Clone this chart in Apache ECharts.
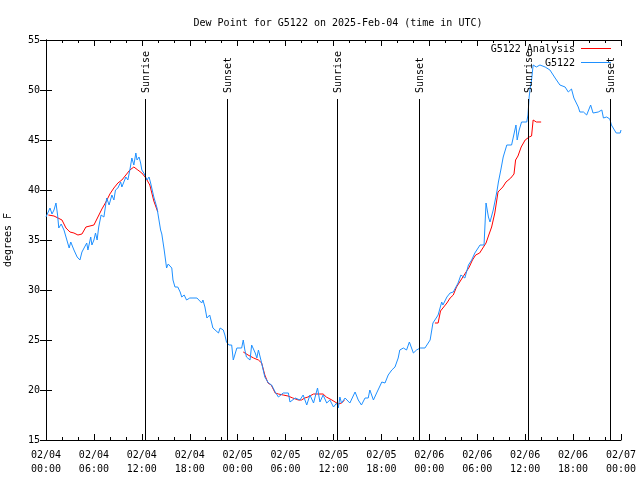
<!DOCTYPE html>
<html>
<head>
<meta charset="utf-8">
<script src="https://cdn.jsdelivr.net/npm/echarts@6/dist/echarts.min.js"></script>
<style>html,body{margin:0;padding:0;background:#fff;}#c{width:640px;height:480px;}</style>
</head>
<body>
<div id="c"></div>
<script>
// Hours since 2025-02-04 00:00 UTC
var obsHours = [0,0.25,0.5,0.75,1.0,1.25,1.45,1.6,1.9,2.25,2.5,2.9,3.1,3.5,3.9,4.25,4.5,4.75,5.1,5.25,5.6,5.75,6.0,6.2,6.4,6.6,6.9,7.0,7.25,7.6,7.9,8.25,8.5,8.7,9.0,9.35,9.5,10.0,10.25,10.5,10.75,11.0,11.25,11.4,11.65,11.85,12.0,12.25,12.65,12.9,13.1,13.3,13.5,13.9,14.1,14.35,14.5,14.8,15.1,15.3,15.5,15.75,15.9,16.15,16.5,16.8,17.0,17.3,17.6,18.0,18.9,19.15,19.5,19.65,19.9,20.15,20.3,20.5,20.75,20.9,21.15,21.6,21.8,22.2,22.4,22.6,22.9,23.05,23.25,23.45,23.9,24.1,24.5,24.7,24.9,25.1,25.55,25.75,25.95,26.2,26.4,26.6,27.0,27.4,27.85,28.25,28.7,29.1,29.7,30.35,30.55,31.2,31.8,32.2,32.65,33.05,33.5,34.0,34.3,34.7,35.15,35.55,36.0,36.4,36.6,36.8,37.0,37.45,38.05,38.7,39.1,39.5,39.95,40.35,40.55,41.0,41.4,42.05,42.45,42.85,43.3,43.7,44.1,44.3,44.75,45.15,45.5,46.0,46.4,46.85,47.45,48.1,48.45,49.1,49.55,49.7,50.2,50.6,51.0,51.6,51.95,52.45,52.9,53.3,53.7,54.35,54.85,55.1,55.4,55.6,56.0,56.45,56.65,56.95,57.25,57.7,58.3,58.5,58.85,59.0,59.25,59.55,60.2,60.35,60.5,60.65,60.8,61.0,61.4,61.85,62.5,63.1,63.75,64.35,65.0,65.4,65.8,66.1,66.65,66.85,67.3,67.7,68.2,68.5,69.15,69.6,69.8,70.2,70.6,70.8,71.0,71.4,71.9,72.0];
var obsValues = [37.3,37.4,38.2,37.6,38.0,38.7,37.5,36.2,36.6,36.0,35.8,34.2,34.8,34.0,33.3,33.0,33.8,33.8,34.7,34.0,35.3,34.5,35.0,35.7,35.0,36.3,37.5,37.7,37.3,39.2,38.5,39.5,39.0,40.0,40.2,40.8,40.3,41.3,41.0,42.0,43.2,42.5,43.7,43.0,43.3,42.7,42.0,41.7,41.0,41.3,40.7,40.9,39.3,38.2,38.0,36.0,35.6,34.0,32.2,32.6,32.5,32.2,31.0,30.3,30.3,29.8,29.3,29.5,29.0,29.2,29.2,29.0,28.7,29.0,28.3,27.2,27.0,27.5,26.7,26.2,26.0,25.7,26.2,26.0,25.5,24.8,24.5,24.7,24.5,23.0,24.2,24.2,24.2,25.0,24.0,23.3,23.0,24.5,24.5,23.7,23.2,24.0,22.7,21.3,20.7,20.5,19.8,19.3,19.7,19.7,18.8,19.2,19.0,19.5,18.5,19.5,18.7,20.2,18.8,19.5,18.7,19.0,18.3,18.7,18.2,19.3,18.7,19.2,18.7,19.8,19.0,18.5,19.2,19.2,20.0,19.0,19.7,20.8,20.7,21.5,22.0,22.3,23.2,24.0,24.2,24.0,24.8,23.7,24.0,24.2,24.2,25.0,26.7,27.5,28.8,28.5,29.3,29.7,29.8,30.7,31.5,31.2,32.5,33.0,33.7,34.5,34.5,38.7,37.3,36.8,38.0,39.8,40.8,42.0,43.3,44.5,44.5,44.5,46.5,45.0,46.0,46.8,46.8,47.5,49.3,50.3,51.0,52.5,52.3,52.5,52.3,52.0,51.2,50.5,50.3,49.8,50.1,49.2,48.3,47.8,47.8,47.5,48.5,47.7,47.8,48.0,47.2,47.3,47.1,46.5,46.5,45.7,45.7,46.0];

// Analysis series (null = gap)
var anaHours = [0.3,1.0,2.0,2.5,3.0,3.5,4.0,4.5,5.0,6.0,6.5,7.0,7.5,8.0,8.5,9.0,9.5,10.0,10.5,11.0,11.5,12.0,12.5,13.0,13.5,14.0,
  19.0,
  24.7,25.3,26.0,26.6,27.0,27.4,27.8,28.2,28.7,29.1,29.7,30.3,30.9,31.6,32.0,32.4,32.8,33.5,34.2,34.7,35.1,35.8,36.2,36.6,37.0,37.4,
  43.0,
  48.7,49.1,49.4,49.8,50.2,50.6,51.0,51.4,51.8,52.2,52.6,53.0,53.4,53.8,54.3,54.7,55.1,55.4,55.8,56.2,56.6,57.2,57.6,58.2,58.6,58.8,59.1,59.5,60.0,60.5,60.8,61.0,61.4,62.0];
var anaValues = [37.5,37.4,37.0,36.2,35.8,35.7,35.5,35.6,36.3,36.5,37.3,38.1,38.8,39.6,40.2,40.7,41.0,41.5,42.0,42.3,42.0,41.7,41.2,40.5,38.9,37.8,
  null,
  23.8,23.5,23.2,23.0,22.7,21.5,20.7,20.5,19.7,19.6,19.5,19.4,19.2,19.0,19.0,19.2,19.3,19.6,19.6,19.6,19.3,19.0,18.8,18.6,18.7,19.0,
  null,
  26.7,26.7,27.9,28.3,28.7,29.2,29.5,30.3,30.8,31.3,31.8,32.3,33.0,33.5,33.7,34.2,34.7,35.4,36.3,37.7,39.8,40.3,40.8,41.2,41.6,43.0,43.4,44.3,45.0,45.3,45.4,47.0,46.8,46.8];

var eventHours = [12.4, 22.65, 36.45, 46.7, 60.35, 70.6];
var eventLabels = ['Sunrise','Sunset','Sunrise','Sunset','Sunrise','Sunset'];

var xTickLabels = ['02/04\n00:00','02/04\n06:00','02/04\n12:00','02/04\n18:00','02/05\n00:00','02/05\n06:00','02/05\n12:00','02/05\n18:00','02/06\n00:00','02/06\n06:00','02/06\n12:00','02/06\n18:00','02/07\n00:00'];

var seriesNames = ['G5122 Analysis', 'G5122'];
var seriesColors = ['#ff0000', '#1e90ff'];

var FONT = 'DejaVu Sans Mono';
function zip(a, b) { var r = []; for (var i = 0; i < a.length; i++) r.push([a[i], b[i] === null ? '-' : b[i]]); return r; }

// key (legend) drawn as graphic elements, gnuplot style: text then line sample
var keyGraphics = [];
seriesNames.forEach(function (name, i) {
  var cy = 49 + i * 14;
  keyGraphics.push({type: 'text', x: 575, y: cy, z: 10,
    style: {text: name, fill: '#000', font: '10px "' + FONT + '"', align: 'right', verticalAlign: 'middle'}});
  keyGraphics.push({type: 'line', z: 10, shape: {x1: 581, y1: cy - 0.5, x2: 611, y2: cy - 0.5},
    style: {stroke: seriesColors[i], lineWidth: 1}});
});

var chart = echarts.init(document.getElementById('c'), null, {renderer: 'canvas'});
var axisLineStyle = {color: '#000', width: 1};
chart.setOption({
  animation: false,
  backgroundColor: '#fff',
  textStyle: {fontFamily: FONT, fontSize: 10, color: '#000'},
  title: {
    text: 'Dew Point for G5122 on 2025-Feb-04 (time in UTC)',
    left: 333, top: 13, textAlign: 'center',
    textStyle: {fontFamily: FONT, fontSize: 10, fontWeight: 'normal', color: '#000'}
  },
  graphic: keyGraphics,
  grid: {left: 46, right: 19, top: 40, bottom: 40, containLabel: false, outerBoundsMode: 'none'},
  xAxis: [
    {type: 'value', min: 0, max: 72, interval: 6, position: 'bottom',
     axisLine: {show: true, lineStyle: axisLineStyle},
     axisTick: {show: true, inside: true, length: 6, lineStyle: axisLineStyle},
     minorTick: {show: true, splitNumber: 3, length: 3, lineStyle: axisLineStyle},
     splitLine: {show: false},
     axisLabel: {margin: 8, lineHeight: 14, fontFamily: FONT, fontSize: 10, color: '#000',
       formatter: function (v) { return xTickLabels[Math.round(v / 6)]; }}},
    {type: 'value', min: 0, max: 72, interval: 6, position: 'top',
     axisLine: {show: true, lineStyle: axisLineStyle},
     axisTick: {show: true, inside: true, length: 6, lineStyle: axisLineStyle},
     minorTick: {show: true, splitNumber: 3, length: 3, lineStyle: axisLineStyle},
     splitLine: {show: false}, axisLabel: {show: false}}
  ],
  yAxis: [
    {type: 'value', min: 15, max: 55, interval: 5, position: 'left',
     name: 'degrees F', nameLocation: 'middle', nameRotate: 90, nameGap: 33,
     nameTextStyle: {fontFamily: FONT, fontSize: 10, color: '#000'},
     axisLine: {show: true, lineStyle: axisLineStyle},
     axisTick: {show: true, inside: true, length: 6, lineStyle: axisLineStyle},
     splitLine: {show: false},
     axisLabel: {margin: 6, fontFamily: FONT, fontSize: 10, color: '#000'}},
    {type: 'value', min: 15, max: 55, interval: 5, position: 'right',
     axisLine: {show: true, lineStyle: axisLineStyle},
     axisTick: {show: true, inside: true, length: 6, lineStyle: axisLineStyle},
     splitLine: {show: false}, axisLabel: {show: false}}
  ],
  series: [
    {name: seriesNames[0], type: 'line', data: zip(anaHours, anaValues), showSymbol: false, symbol: 'none',
     connectNulls: false, color: seriesColors[0], lineStyle: {width: 1, color: seriesColors[0]}, z: 2},
    {name: seriesNames[1], type: 'line', data: zip(obsHours, obsValues), showSymbol: false, symbol: 'none',
     color: seriesColors[1], lineStyle: {width: 1, color: seriesColors[1]}, z: 3},
    {name: 'events', type: 'custom', data: eventHours.map(function (h, i) { return [h, eventLabels[i]]; }),
     encode: {x: 0}, z: 4, silent: true,
     renderItem: function (params, api) {
       var h = api.value(0);
       var top = api.coord([h, 49.1]);
       var bot = api.coord([h, 15]);
       var x = Math.round(top[0]) + 0.5;
       return {type: 'group', children: [
         {type: 'line', shape: {x1: x, y1: top[1], x2: x, y2: bot[1]}, style: {stroke: '#000', lineWidth: 1}},
         {type: 'text', x: x + 1, y: top[1] - 6, rotation: Math.PI / 2,
          style: {text: eventLabels[params.dataIndex], fill: '#000', font: '10px "' + FONT + '"', align: 'left', verticalAlign: 'middle'}}
       ]};
     }}
  ]
});
</script>
</body>
</html>
